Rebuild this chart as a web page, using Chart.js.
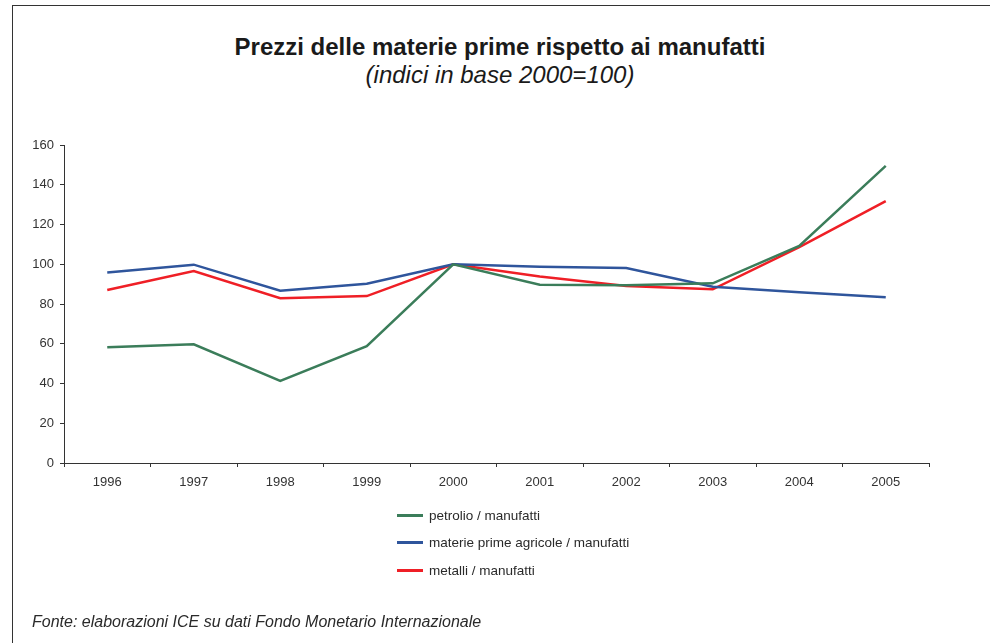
<!DOCTYPE html>
<html>
<head>
<meta charset="utf-8">
<script src="https://cdn.jsdelivr.net/npm/chart.js@4"></script>
<style>
  body { margin: 0; background: #fff; font-family: "Liberation Sans", Arial, sans-serif; color: #222; }
  #wrap { position: relative; width: 990px; height: 643px; overflow: hidden; }
  #frame { position: absolute; left: 12px; top: 5px; width: 990px; height: 700px;
           border-top: 1px solid #333; border-left: 1px solid #333; }
  #chart { position: absolute; left: 0; top: 0; }
  .title { position: absolute; left: 0; width: 1000px; text-align: center; font-size: 24px; line-height: 24px; color: #1a1a1a; }
  #legend { position: absolute; left: 397px; top: 508px; }
  .row { display: flex; align-items: center; height: 14px; margin-bottom: 13.5px; font-size: 13.5px; color: #2a2a2a; }
  .swatch { width: 26px; height: 3px; margin-right: 6px; }
  #note { position: absolute; left: 32px; top: 614px; font-size: 16px; line-height: 16px; font-style: italic; color: #2a2a2a; }
</style>
</head>
<body>
<div id="wrap">
  <div id="frame"></div>
  <div class="title" style="top:35px;font-weight:bold">Prezzi delle materie prime rispetto ai manufatti</div>
  <div class="title" style="top:63px;font-style:italic">(indici in base 2000=100)</div>
  <canvas id="chart" width="990" height="643"></canvas>
  <div id="legend"></div>
  <div id="note">Fonte: elaborazioni ICE su dati Fondo Monetario Internazionale</div>
</div>
<script>
const years = ['1996', '1997', '1998', '1999', '2000', '2001', '2002', '2003', '2004', '2005'];
const petrolio = [58.2, 59.7, 41.3, 58.8, 100, 89.7, 89.4, 90.4, 109.2, 149.5];
const agricole = [95.8, 99.8, 86.7, 90.2, 100, 98.8, 98.1, 88.7, 85.9, 83.4];
const metalli = [87.0, 96.6, 82.9, 84.0, 100, 93.8, 89.1, 87.4, 108.6, 131.8];
const seriesNames = ['petrolio / manufatti', 'materie prime agricole / manufatti', 'metalli / manufatti'];
const seriesColors = ['#3b7d5a', '#2f559c', '#ef1f26'];

const axisColor = '#333';
const tickFont = { family: '"Liberation Sans", Arial, sans-serif', size: 13 };

const datasets = [petrolio, agricole, metalli].map((d, i) => ({
  label: seriesNames[i],
  data: d,
  borderColor: seriesColors[i],
  backgroundColor: seriesColors[i],
  borderWidth: 2.5,
  pointRadius: 0,
  tension: 0,
  fill: false
}));

new Chart(document.getElementById('chart'), {
  type: 'line',
  data: { labels: years, datasets: datasets },
  options: {
    responsive: false,
    animation: false,
    layout: { padding: { left: 0, top: 145, right: 61, bottom: 150 } },
    plugins: { legend: { display: false }, title: { display: false }, tooltip: { enabled: false } },
    scales: {
      x: {
        offset: true,
        grid: { offset: true, drawOnChartArea: false, drawTicks: true, tickLength: 4, color: axisColor },
        border: { display: true, color: axisColor, width: 1 },
        ticks: { color: '#333', font: tickFont, padding: 8, maxRotation: 0 },
        afterFit: s => { s.height = 30; }
      },
      y: {
        min: 0, max: 160,
        grid: { drawOnChartArea: false, drawTicks: true, tickLength: 4, color: axisColor },
        border: { display: true, color: axisColor, width: 1 },
        ticks: { stepSize: 20, color: '#333', font: tickFont, padding: 6 },
        afterFit: s => { s.width = 64; }
      }
    }
  }
});

const legend = document.getElementById('legend');
datasets.forEach(ds => {
  const row = document.createElement('div');
  row.className = 'row';
  row.innerHTML = '<span class="swatch" style="background:' + ds.borderColor + '"></span><span>' + ds.label + '</span>';
  legend.appendChild(row);
});
</script>
</body>
</html>
